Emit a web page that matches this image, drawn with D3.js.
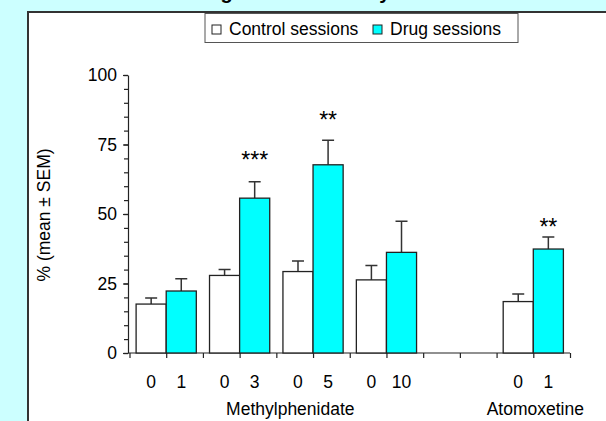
<!DOCTYPE html>
<html>
<head>
<meta charset="utf-8">
<script src="https://cdn.jsdelivr.net/npm/d3@7"></script>
<style>
  body { margin: 0; background: #ccffff; }
  svg { display: block; font-family: Arial, "Liberation Sans", sans-serif; }
</style>
</head>
<body>
<svg id="chart" width="606" height="421"></svg>
<script>
// chart values
var pairs = ["M1", "M3", "M5", "M10", "gap", "A1"];
var doseLabels = ["1", "3", "5", "10", "", "1"];
var controlMean = [17.6, 27.9, 29.3, 26.3, null, 18.5];
var controlSem = [2.2, 2.1, 3.8, 5.2, null, 2.7];
var drugMean = [22.3, 55.7, 67.7, 36.2, null, 37.4];
var drugSem = [4.4, 5.9, 8.8, 11.2, null, 4.3];
var stars = ["", "***", "**", "", "", "**"];
var starLevel = [null, 67.5, 82, null, null, 43.5];
var yTicks = [0, 25, 50, 75, 100];
var drugNames = ["Methylphenidate", "Atomoxetine"];
var legendLabels = ["Control sessions", "Drug sessions"];

var svg = d3.select("#chart");

// white panel
svg.append("rect")
    .attr("x", 28).attr("y", 12)
    .attr("width", 600).attr("height", 420)
    .attr("fill", "#fff");
svg.append("path")
    .attr("d", "M28,421V12H606")
    .attr("fill", "none")
    .attr("stroke", "#333")
    .attr("stroke-width", 2);

// title, mostly cut off above the frame (as in the original)
svg.append("text")
    .attr("x", 186).attr("y", -1)
    .attr("font-weight", "bold")
    .attr("font-size", 20)
    .text("Drug-induced activity");

var x = d3.scaleBand().domain(pairs).range([129.5, 570]),
    y = d3.scaleLinear().domain([0, 100]).range([353, 75]),
    bw = x.bandwidth() * 0.41;

var g = svg.append("g");

// y axis, minor then major ticks
g.append("g")
    .attr("transform", "translate(128,0)")
    .call(d3.axisLeft(y).tickValues(d3.range(0, 101, 5)).tickSize(4).tickFormat(""))
    .call(function(a) { a.select(".domain").remove(); });
g.append("g")
    .attr("class", "y axis")
    .attr("transform", "translate(128,0)")
    .call(d3.axisLeft(y).tickValues(yTicks).tickSize(5).tickSizeOuter(0).tickPadding(6));

// x axis, tick at each bar edge
var xt = d3.scaleLinear().domain([0, 12]).range([129.5, 570]);
g.append("g")
    .attr("transform", "translate(0," + y(0) + ")")
    .call(d3.axisBottom(xt).ticks(12).tickSize(5).tickSizeOuter(0).tickFormat(""))
    .call(function(a) { a.select(".domain").attr("d", "M128,0H570"); });

g.selectAll(".axis text").attr("font-size", 17.5).attr("fill", "#000");
g.selectAll(".tick line, .domain").attr("stroke", "#222").attr("stroke-width", 1.2);

var idx = d3.range(pairs.length).filter(function(i) { return controlMean[i] != null; });

function center(i) { return x(pairs[i]) + x.bandwidth() / 2; }

function drawBars(means, sems, fill, dx) {
    var bars = g.append("g");
    idx.forEach(function(i) {
        var bx = center(i) + dx;
        bars.append("path")
            .attr("d", "M" + (bx + bw / 2) + "," + y(means[i]) + "V" + y(means[i] + sems[i]) +
                  "M" + (bx + bw / 2 - 6) + "," + y(means[i] + sems[i]) + "h12")
            .attr("stroke", "#333").attr("stroke-width", 1.5).attr("fill", "none");
        bars.append("rect")
            .attr("x", bx).attr("y", y(means[i]))
            .attr("width", bw).attr("height", y(0) - y(means[i]))
            .attr("fill", fill)
            .attr("stroke", "#222").attr("stroke-width", 1.3);
    });
}
drawBars(controlMean, controlSem, "#fff", -bw);
drawBars(drugMean, drugSem, "#00ffff", 0);

// dose labels
idx.forEach(function(i) {
    g.append("text").attr("x", center(i) - bw / 2).attr("y", 388)
        .attr("text-anchor", "middle").attr("font-size", 17.5).text("0");
    g.append("text").attr("x", center(i) + bw / 2).attr("y", 388)
        .attr("text-anchor", "middle").attr("font-size", 17.5).text(doseLabels[i]);
    if (stars[i]) {
        g.append("text").attr("x", center(i) + bw / 2).attr("y", y(starLevel[i]) + 3)
            .attr("text-anchor", "middle").attr("font-size", 23).text(stars[i]);
    }
});

g.append("text")
    .attr("x", (center(0) + center(3)) / 2 + 14).attr("y", 415)
    .attr("text-anchor", "middle").attr("font-size", 17.5).text(drugNames[0]);
g.append("text")
    .attr("x", center(5) + 2).attr("y", 415)
    .attr("text-anchor", "middle").attr("font-size", 17.5).text(drugNames[1]);

// y title
g.append("text")
    .attr("transform", "translate(50,215) rotate(-90)")
    .attr("text-anchor", "middle").attr("font-size", 17.5)
    .text("% (mean \u00b1 SEM)");

// legend
var lg = svg.append("g");
lg.append("rect")
    .attr("x", 205).attr("y", 13.5).attr("width", 313).attr("height", 29)
    .attr("fill", "#fff").attr("stroke", "#555").attr("stroke-width", 1);
[[212, "#fff", 229], [373, "#00ffff", 390]].forEach(function(d, k) {
    lg.append("rect").attr("x", d[0]).attr("y", 25).attr("width", 9).attr("height", 9)
        .attr("fill", d[1]).attr("stroke", "#222").attr("stroke-width", 1);
    lg.append("text").attr("x", d[2]).attr("y", 35).attr("font-size", 17.5).text(legendLabels[k]);
});
</script>
</body>
</html>
